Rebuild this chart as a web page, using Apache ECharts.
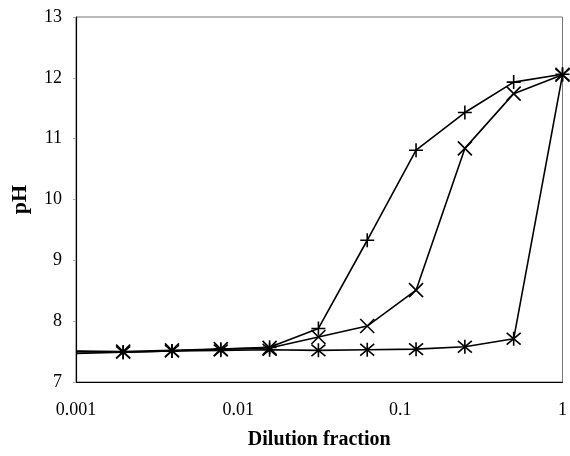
<!DOCTYPE html>
<html>
<head>
<meta charset="utf-8">
<script src="https://cdn.jsdelivr.net/npm/echarts@6/dist/echarts.min.js"></script>
<style>
  html, body { margin: 0; padding: 0; background: #fff; }
  #chart { width: 570px; height: 456px; }
</style>
</head>
<body>
<div id="chart"></div>
<script>
// dilution fractions (first point only carries the line to the axis edge)
const dilution = [0.001, 0.001953125, 0.00390625, 0.0078125, 0.015625, 0.03125, 0.0625, 0.125, 0.25, 0.5, 1];
const phPlus  = [7.50, 7.49, 7.51, 7.54, 7.57, 7.88, 9.33, 10.81, 11.43, 11.93, 12.06];
const phCross = [7.51, 7.50, 7.52, 7.54, 7.56, 7.74, 7.92, 8.51, 10.84, 11.74, 12.05];
const phStar  = [7.47, 7.49, 7.51, 7.52, 7.53, 7.52, 7.53, 7.54, 7.58, 7.71, 12.05];
const xTicks = [0.001, 0.01, 0.1, 1];
const yTicks = [7, 8, 9, 10, 11, 12, 13];

const font = "'Liberation Serif', 'Times New Roman', serif";

const symPlus = "path://M0,-1L0,1M-1,0L1,0";
const symCross = "path://M-1,-1L1,1M-1,1L1,-1";
const symStar = "path://M-1,-1L1,1M-1,1L1,-1M0,-1.2L0,1.2";

function makeSeries(values, symbol) {
  return {
    type: "line",
    data: dilution.map((d, i) => ({
      value: [d, values[i]],
      symbolSize: i === 0 ? 0 : 14,
    })),
    symbol: symbol,
    showAllSymbol: true,
    lineStyle: { color: "#000", width: 1.6 },
    itemStyle: { color: "none", borderColor: "#000", borderWidth: 1.6 },
    emphasis: { disabled: true },
    animation: false,
    z: 3,
  };
}

const chart = echarts.init(document.getElementById("chart"));
chart.setOption({
  animation: false,
  grid: {
    left: 76, right: 4, top: 17, bottom: 74,
    show: true, borderColor: "#777", borderWidth: 1,
  },
  xAxis: {
    type: "log",
    logBase: 10,
    min: xTicks[0],
    max: xTicks[xTicks.length - 1],
    axisLine: { show: true, lineStyle: { color: "#000", width: 1.2 } },
    axisTick: { show: false },
    splitLine: { show: false },
    axisLabel: {
      margin: 19,
      color: "#000",
      fontFamily: font,
      fontSize: 18,
      formatter: (v) => String(xTicks.find((t) => Math.abs(t - v) / t < 1e-6) ?? ""),
    },
    name: "Dilution fraction",
    nameLocation: "middle",
    nameGap: 48,
    nameTextStyle: { color: "#000", fontFamily: font, fontSize: 20, fontWeight: "bold" },
  },
  yAxis: {
    type: "value",
    min: yTicks[0],
    max: yTicks[yTicks.length - 1],
    interval: 1,
    axisLine: { show: true, lineStyle: { color: "#000", width: 1.2 } },
    axisTick: { show: true, length: 3, lineStyle: { color: "#aaa" } },
    splitLine: { show: false },
    axisLabel: {
      margin: 14,
      color: "#000",
      fontFamily: font,
      fontSize: 18,
    },
    name: "pH",
    nameLocation: "middle",
    nameGap: 45,
    nameTextStyle: { color: "#000", fontFamily: font, fontSize: 22, fontWeight: "bold" },
  },
  series: [
    makeSeries(phPlus, symPlus),
    makeSeries(phCross, symCross),
    makeSeries(phStar, symStar),
  ],
});
</script>
</body>
</html>
